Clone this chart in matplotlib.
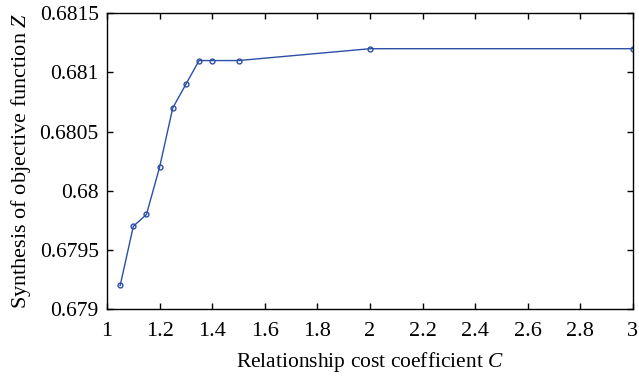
import matplotlib
matplotlib.use('Agg')
from matplotlib import pyplot as plt

c_vals = [1.05, 1.1, 1.15, 1.2, 1.25, 1.3, 1.35, 1.4, 1.5, 2.0, 3.0]  # relationship cost coefficient
z_vals = [0.6792, 0.6797, 0.6798, 0.6802, 0.6807, 0.6809, 0.6811, 0.6811, 0.6811, 0.6812, 0.6812]
x_ticks = [1, 1.2, 1.4, 1.6, 1.8, 2, 2.2, 2.4, 2.6, 2.8, 3]
x_tick_labels = ['1', '1.2', '1.4', '1.6', '1.8', '2', '2.2', '2.4', '2.6', '2.8', '3']
y_ticks = [0.679, 0.6795, 0.68, 0.6805, 0.681, 0.6815]
y_tick_labels = ['0.679', '0.6795', '0.68', '0.6805', '0.681', '0.6815']

plt.rcParams['font.family'] = ['Liberation Serif', 'DejaVu Serif']
plt.rcParams['mathtext.fontset'] = 'custom'
plt.rcParams['mathtext.it'] = 'Liberation Serif:italic'

fig = plt.figure(figsize=(6.39, 3.77), dpi=100)
ax = fig.add_axes([0.1675, 0.18, 0.823, 0.785])

ax.plot(c_vals, z_vals, color='#2b4fa6', lw=1.0, marker='o', ms=3.5,
        mfc='none', mec='#2b4fa6', mew=1.0)

ax.set_xlim(1, 3)
ax.set_ylim(0.679, 0.6815)
ax.set_xticks(x_ticks)
ax.set_xticklabels(x_tick_labels)
ax.set_yticks(y_ticks)
ax.set_yticklabels(y_tick_labels)
ax.tick_params(direction='in', top=True, right=True, length=4, width=1)
ax.tick_params(axis='x', labelsize=16, pad=9)
ax.tick_params(axis='y', labelsize=15.5, pad=6)
for s in ax.spines.values():
    s.set_linewidth(1.0)

ax.set_xlabel('Relationship cost coefficient $C$', fontsize=15.5, labelpad=7)
ax.set_ylabel('Synthesis of objective function $Z$', fontsize=16, labelpad=5)

fig.savefig('out.png', dpi=100)
